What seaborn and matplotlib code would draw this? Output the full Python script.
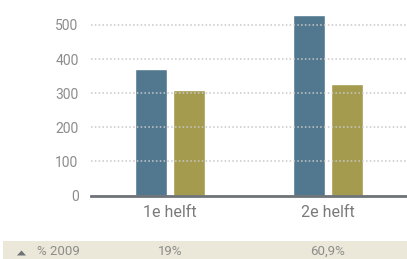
import matplotlib
matplotlib.use("Agg")
import matplotlib.pyplot as plt
import matplotlib.transforms as mtransforms
from matplotlib.patches import Rectangle, Polygon
import seaborn as sns
import pandas as pd

# Data
categories = ["1e helft", "2e helft"]
series_names = ["2010", "2009"]
values_2010 = [370, 528]
values_2009 = [310, 328]
pct_label = "% 2009"
pct_values = ["19%", "60,9%"]

df = pd.DataFrame({
    "periode": categories * 2,
    "reeks": [series_names[0]] * 2 + [series_names[1]] * 2,
    "waarde": values_2010 + values_2009,
})

sns.set_style("white")
plt.rcParams["font.family"] = ["Roboto", "DejaVu Sans"]

fig = plt.figure(figsize=(4.07, 2.59), dpi=100)
ax = fig.add_axes([91 / 407, 63.5 / 259, 316 / 407, 195.5 / 259])

sns.barplot(data=df, x="periode", y="waarde", hue="reeks",
            palette=["#52788f", "#a59b4e"], width=0.48, gap=0.18,
            saturation=1, legend=False, ax=ax)

ax.set_ylim(0, 573)
ax.set_xlim(-0.5, 1.5)
ax.set_yticks([0, 100, 200, 300, 400, 500])
ax.set_xlabel("")
ax.set_ylabel("")

# dotted gridlines drawn over the bars
ax.set_axisbelow(False)
ax.yaxis.grid(True, linestyle=(0, (1, 1.5)), color="#c8c8c8", linewidth=1.1)
ax.xaxis.grid(False)
for s in ["top", "right", "left"]:
    ax.spines[s].set_visible(False)
ax.spines["bottom"].set_color("#6e7378")
ax.spines["bottom"].set_linewidth(2)
ax.spines["bottom"].set_zorder(5)

ax.tick_params(axis="y", length=0, pad=9, labelsize=10, labelcolor="#8c8c8c")
ax.tick_params(axis="x", length=0, pad=7, labelsize=11.5, labelcolor="#7a7a7a")

# beige strip with percentages
fig.add_artist(Rectangle((3 / 407, 0), 404 / 407, 18 / 259,
                         transform=fig.transFigure, facecolor="#ebe8d9",
                         edgecolor="none", zorder=0))
# little "up" triangle in front of the label
fig.add_artist(Polygon([(17 / 407, 3.5 / 259), (26 / 407, 3.5 / 259),
                        (21.5 / 407, 8.5 / 259)], closed=True,
                       transform=fig.transFigure, facecolor="#6e7378",
                       edgecolor="none"))
fig.text(37 / 407, 7.5 / 259, pct_label, fontsize=9.5, color="#8c8c8c",
         va="center", ha="left")
trans = mtransforms.blended_transform_factory(ax.transData, fig.transFigure)
for i, p in enumerate(pct_values):
    ax.text(i, 7.5 / 259, p, transform=trans, fontsize=9.5, color="#8c8c8c",
            va="center", ha="center", clip_on=False)

fig.savefig("out.png", dpi=100)
